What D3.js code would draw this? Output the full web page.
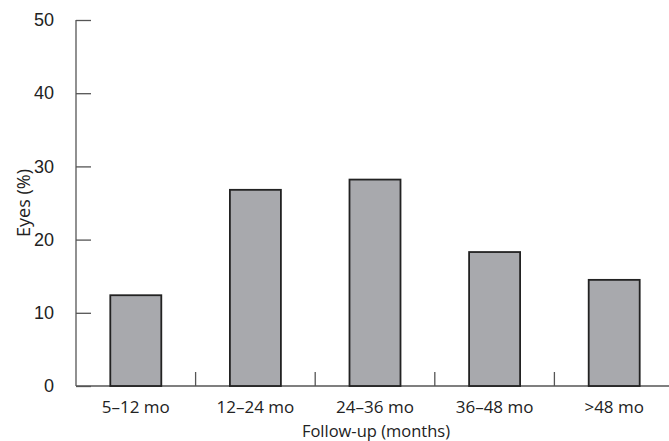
<!DOCTYPE html>
<html>
<head>
<meta charset="UTF-8">
<script src="https://d3js.org/d3.v7.min.js"></script>
<style>
  body { margin: 0; background: #fff; font-family: "Open Sans", sans-serif; }
  text { fill: #222; }
</style>
</head>
<body>
<svg id="chart" width="669" height="441"></svg>
<script>
const categories = ["5–12 mo", "12–24 mo", "24–36 mo", "36–48 mo", ">48 mo"];
const values = [12.4, 26.8, 28.2, 18.3, 14.5];
const yTicks = [0, 10, 20, 30, 40, 50];

const margin = { top: 20, right: 0, bottom: 55, left: 76 };
const width = 669 - margin.left - margin.right;
const height = 441 - margin.top - margin.bottom;

const svg = d3.select("#chart")
  .append("g")
  .attr("transform", `translate(${margin.left},${margin.top})`);

const x = d3.scaleBand().domain(categories).range([0, 598]).paddingInner(0).paddingOuter(0);
const y = d3.scaleLinear().domain([0, 50]).range([height, 0]);

// y axis
const yAxis = svg.append("g")
  .call(d3.axisLeft(y).tickValues(yTicks).tickSize(-15).tickPadding(22));
yAxis.selectAll("line, path").attr("stroke", "#555").attr("stroke-width", 1.3);
yAxis.select("path").attr("d", `M0,0V${height}`);
yAxis.selectAll("text").attr("font-size", 18).attr("fill", "#222");

// x axis
const bounds = categories.slice(1).map(c => x(c));
svg.append("line").attr("x1", 0).attr("x2", width).attr("y1", height).attr("y2", height)
  .attr("stroke", "#555").attr("stroke-width", 1.3);
svg.selectAll(".xt").data(bounds).enter().append("line")
  .attr("x1", d => d).attr("x2", d => d).attr("y1", height - 14).attr("y2", height)
  .attr("stroke", "#555").attr("stroke-width", 1.3);
svg.selectAll(".xl").data(categories).enter().append("text")
  .attr("x", d => x(d) + x.bandwidth() / 2).attr("y", height + 27)
  .attr("text-anchor", "middle").attr("font-size", 17).text(d => d);

// bars
const bw = 51;
svg.selectAll(".bar").data(values).enter().append("rect")
  .attr("x", (d, i) => x(categories[i]) + x.bandwidth() / 2 - bw / 2)
  .attr("y", d => y(d))
  .attr("width", bw)
  .attr("height", d => height - y(d))
  .attr("fill", "#a8a9ad").attr("stroke", "#222").attr("stroke-width", 1.8);

svg.append("text").attr("x", 300).attr("y", height + 51)
  .attr("text-anchor", "middle").attr("font-size", 16.5).text("Follow-up (months)");
svg.append("text").attr("transform", `translate(-46,${height / 2}) rotate(-90)`)
  .attr("text-anchor", "middle").attr("font-size", 18).text("Eyes (%)");
</script>
</body>
</html>
